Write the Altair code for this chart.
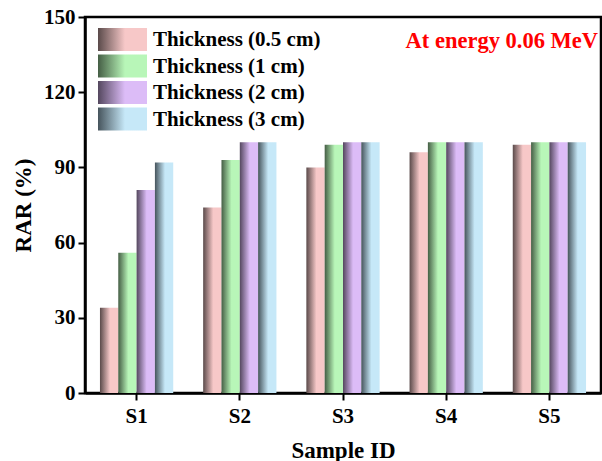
import altair as alt
import pandas as pd

samples = ["S1", "S2", "S3", "S4", "S5"]
thicknesses = ["Thickness (0.5 cm)", "Thickness (1 cm)", "Thickness (2 cm)", "Thickness (3 cm)"]
t05 = [34, 74, 90, 96, 99]
t1 = [56, 93, 99, 100, 100]
t2 = [81, 100, 100, 100, 100]
t3 = [92, 100, 100, 100, 100]
series = [t05, t1, t2, t3]
y_ticks = [0, 30, 60, 90, 120, 150]

light = ["#f7c8c8", "#b8f6b8", "#dcbcf7", "#c6e8f8"]
dark = ["#5a4a4a", "#455e45", "#54475e", "#46545c"]

FONT = "Liberation Serif"


def grad(i):
    return {
        "gradient": "linear",
        "x1": 0, "x2": 1, "y1": 0, "y2": 0,
        "stops": [
            {"offset": 0, "color": dark[i]},
            {"offset": 0.55, "color": light[i]},
            {"offset": 1, "color": light[i]},
        ],
    }


layers = []
for i, (name, vals) in enumerate(zip(thicknesses, series)):
    df = pd.DataFrame({"Sample": samples, "Thickness": name, "RAR": vals})
    bar = alt.Chart(df).mark_bar(fill=grad(i), clip=True).encode(
        x=alt.X("Sample:N", sort=samples,
                scale=alt.Scale(paddingInner=0.29, paddingOuter=0.145),
                axis=alt.Axis(title="Sample ID", labelAngle=0, labelPadding=5,
                              titlePadding=13)),
        xOffset=alt.XOffset("Thickness:N", scale=alt.Scale(domain=thicknesses, paddingInner=0)),
        y=alt.Y("RAR:Q", scale=alt.Scale(domain=[0, 150], nice=False),
                axis=alt.Axis(title="RAR (%)", values=y_ticks, grid=False,
                              labelPadding=3, titlePadding=8)),
    )
    layers.append(bar)

# custom legend with gradient swatches
for i, name in enumerate(thicknesses):
    ldf = pd.DataFrame({"label": [name]})
    top = 11 + i * 26.5
    sw = alt.Chart(ldf).mark_rect(fill=grad(i)).encode(
        x=alt.value(13), x2=alt.value(62),
        y=alt.value(top), y2=alt.value(top + 23),
    )
    tx = alt.Chart(ldf).mark_text(
        align="left", baseline="middle", font=FONT, fontWeight="bold",
        fontSize=21, color="black"
    ).encode(
        text="label:N", x=alt.value(68), y=alt.value(top + 12),
    )
    layers += [sw, tx]

note = alt.Chart(pd.DataFrame({"t": ["At energy 0.06 MeV"]})).mark_text(
    align="right", baseline="middle", font=FONT, fontWeight="bold",
    fontSize=22.5, color="#ff0000"
).encode(text="t:N", x=alt.value(513), y=alt.value(24))
layers.append(note)

chart = alt.layer(*layers).properties(
    width=516, height=376,
    background="white",
    autosize=alt.AutoSizeParams(type="none"),
    padding={"left": 85, "top": 17, "right": 1, "bottom": 68},
).configure_view(
    stroke="black", strokeWidth=2.5
).configure_axis(
    labelFont=FONT, titleFont=FONT, labelFontWeight="bold", titleFontWeight="bold",
    labelFontSize=21, titleFontSize=23, labelColor="black", titleColor="black",
    domainColor="black", domainWidth=2.5, tickColor="black", tickWidth=2,
    tickSize=7,
)

chart.save("out.html", embed_options={"renderer": "svg", "actions": False})
